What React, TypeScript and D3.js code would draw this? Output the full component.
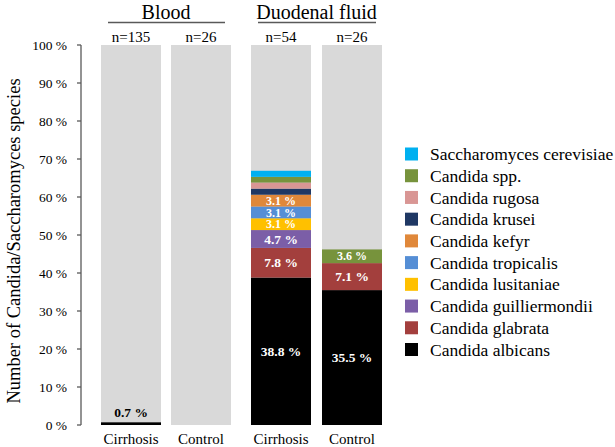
import React from "react";
import * as d3 from "d3";

const species = [
  "Candida albicans",
  "Candida glabrata",
  "Candida guilliermondii",
  "Candida lusitaniae",
  "Candida tropicalis",
  "Candida kefyr",
  "Candida krusei",
  "Candida rugosa",
  "Candida spp.",
  "Saccharomyces cerevisiae",
];
const speciesColors = [
  "#000000",
  "#a33f3d",
  "#7b5ea7",
  "#ffc000",
  "#558ed5",
  "#e0883a",
  "#1f3864",
  "#d99694",
  "#77933c",
  "#00b0f0",
];
const bars = ["Blood|Cirrhosis", "Blood|Control", "Duodenal fluid|Cirrhosis", "Duodenal fluid|Control"];
const barLabels = ["Cirrhosis", "Control", "Cirrhosis", "Control"];
const groups = ["Blood", "Duodenal fluid"];
const nLabels = ["n=135", "n=26", "n=54", "n=26"];
// values per species per bar (percent)
const bloodCirrhosis = [0.7, 0, 0, 0, 0, 0, 0, 0, 0, 0];
const bloodControl = [0, 0, 0, 0, 0, 0, 0, 0, 0, 0];
const duodCirrhosis = [38.8, 7.8, 4.7, 3.1, 3.1, 3.1, 1.6, 1.6, 1.5, 1.6];
const duodControl = [35.5, 7.1, 0, 0, 0, 0, 0, 0, 3.6, 0];
const labelShown = [
  [false, false, false, false, false, false, false, false, false, false],
  [false, false, false, false, false, false, false, false, false, false],
  [true, true, true, true, true, true, false, false, false, false],
  [true, true, false, false, false, false, false, false, true, false],
];
const yTicks = [0, 10, 20, 30, 40, 50, 60, 70, 80, 90, 100];

const FONT = "Liberation Serif, Times New Roman, serif";

export default function App() {
  const W = 615, H = 447;
  const y = d3.scaleLinear().domain([0, 100]).range([425, 45]);
  const x = d3.scaleOrdinal<string, number>().domain(bars).range([101, 171, 251, 322]);
  const xPos = (i: number) => x(bars[i]) as number;
  const bw = 60;
  const data = [bloodCirrhosis, bloodControl, duodCirrhosis, duodControl];
  const stacks = data.map((vals) => {
    let acc = 0;
    return vals.map((v, k) => {
      const s = { y0: acc, y1: acc + v, v, k };
      acc += v;
      return s;
    });
  });
  const legendY = d3.scaleLinear().domain([0, 9]).range([154, 349.5]);
  const legendOrder = species.map((_, i) => species.length - 1 - i);
  return (
    <svg width={W} height={H} style={{ position: "absolute", left: 0, top: 0, background: "#fff", fontFamily: FONT }}>
      {bars.map((b, i) => (
        <rect key={"bg" + b} x={xPos(i)} y={y(100)} width={bw} height={y(0) - y(100)} fill="#d9d9d9" />
      ))}
      {stacks.map((st, i) =>
        st.filter((s) => s.v > 0).map((s) => (
          <rect key={"s" + i + "-" + s.k} x={xPos(i)} y={y(s.y1)} width={bw} height={y(s.y0) - y(s.y1)} fill={speciesColors[s.k]} />
        ))
      )}
      {stacks.map((st, i) =>
        st.filter((s) => s.v > 0 && labelShown[i][s.k]).map((s) => (
          <text key={"l" + i + "-" + s.k} x={xPos(i) + bw / 2} y={(y(s.y0) + y(s.y1)) / 2} dy="0.35em" textAnchor="middle" fill="#fff" fontWeight="bold" fontSize={s.v < 4 ? 12 : 13.5}>
            {s.v.toFixed(1)} %
          </text>
        ))
      )}
      <text x={xPos(0) + bw / 2} y={y(bloodCirrhosis[0]) - 5} textAnchor="middle" fontWeight="bold" fontSize={13.5} fill="#000">
        {bloodCirrhosis[0].toFixed(1)} %
      </text>
      <line x1={81} x2={81} y1={y(0)} y2={y(100)} stroke="#595959" strokeWidth={1.3} />
      {yTicks.map((t) => (
        <g key={"t" + t}>
          <line x1={77} x2={81} y1={y(t)} y2={y(t)} stroke="#595959" strokeWidth={1.3} />
          <text x={67} y={y(t)} dy="0.35em" textAnchor="end" fontSize={13.5} fill="#000">
            {t} %
          </text>
        </g>
      ))}
      <text transform={`translate(14,241) rotate(-90)`} textAnchor="middle" dy="0.35em" fontSize={18.5} fill="#000">
        Number of Candida/Saccharomyces species
      </text>
      {barLabels.map((l, i) => (
        <text key={"xl" + i} x={xPos(i) + bw / 2} y={439} dy="0.3em" textAnchor="middle" fontSize={15} fill="#000">
          {l}
        </text>
      ))}
      {nLabels.map((l, i) => (
        <text key={"n" + i} x={xPos(i) + bw / 2} y={37} dy="0.35em" textAnchor="middle" fontSize={15} fill="#000">
          {l}
        </text>
      ))}
      {groups.map((g, gi) => {
        const cx = (xPos(gi * 2) + xPos(gi * 2 + 1) + bw) / 2;
        return (
          <g key={"g" + g}>
            <text x={cx} y={12} dy="0.35em" textAnchor="middle" fontSize={20} fill="#000">
              {g}
            </text>
            <line x1={xPos(gi * 2) + 7} x2={xPos(gi * 2 + 1) + bw - 6} y1={22.5} y2={22.5} stroke="#595959" strokeWidth={1.3} />
          </g>
        );
      })}
      {legendOrder.map((k, i) => (
        <g key={"lg" + k}>
          <rect x={405} y={legendY(i) - 6.5} width={13} height={13} fill={speciesColors[k]} />
          <text x={430} y={legendY(i)} dy="0.35em" fontSize={17.5} fill="#000">
            {species[k]}
          </text>
        </g>
      ))}
    </svg>
  );
}
